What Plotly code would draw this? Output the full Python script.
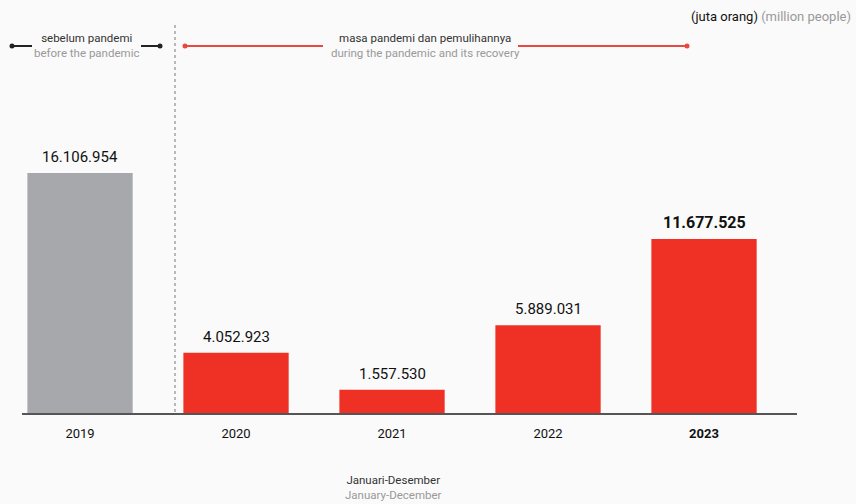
import plotly.graph_objects as go

# Data: foreign tourist arrivals per year (people)
years = ["2019", "2020", "2021", "2022", "2023"]
arrivals = [16106954, 4052923, 1557530, 5889031, 11677525]
periods = ["pre", "pandemic", "pandemic", "pandemic", "pandemic"]

RED = "#ee3124"
GREY = "#a7a8ab"
BG = "#fafafa"
FONT = "Roboto"

W_PX, H_PX = 856, 504
M = dict(l=22, r=59, t=60, b=91)
PLOT_W = W_PX - M["l"] - M["r"]
PLOT_H = H_PX - M["t"] - M["b"]


def px_x(p):
    """Convert a horizontal page pixel to paper coordinates."""
    return (p - M["l"]) / PLOT_W


def px_y(p):
    """Convert a vertical page pixel to paper coordinates."""
    return (H_PX - M["b"] - p) / PLOT_H


def fmt(v):
    return f"{v:,}".replace(",", ".")


colors = [GREY if p == "pre" else RED for p in periods]
idx = list(range(len(years)))

fig = go.Figure(
    go.Bar(
        x=idx,
        y=arrivals,
        marker=dict(color=colors, line=dict(width=0)),
        width=0.675,
        hoverinfo="skip",
    )
)

# value labels above bars; the latest year is emphasised
for i, v in zip(idx, arrivals):
    last = i == len(years) - 1
    fig.add_annotation(
        x=i, y=v, xref="x", yref="y",
        text=f"<b>{fmt(v)}</b>" if last else fmt(v),
        showarrow=False, yanchor="bottom", yshift=5,
        font=dict(family=FONT, size=16 if last else 15, color="#111"),
    )

ticktext = [f"<b>{y}</b>" if i == len(years) - 1 else y for i, y in enumerate(years)]

fig.update_layout(
    width=W_PX, height=H_PX,
    margin=M,
    paper_bgcolor=BG, plot_bgcolor=BG,
    showlegend=False,
    xaxis=dict(
        range=[-0.372, 4.596],
        tickvals=idx, ticktext=ticktext,
        tickfont=dict(family=FONT, size=13, color="#111"),
        showgrid=False, zeroline=False,
        showline=True, linecolor="#555", linewidth=2,
        ticks="outside", ticklen=7, tickcolor="rgba(0,0,0,0)",
    ),
    yaxis=dict(
        range=[0, 23.7e6],
        visible=False, showgrid=False, zeroline=False,
    ),
    font=dict(family=FONT),
)

# dotted divider between pre-pandemic and pandemic periods
fig.add_shape(
    type="line", xref="paper", yref="paper",
    x0=px_x(175), x1=px_x(175), y0=px_y(25), y1=0,
    line=dict(color="#777", width=1, dash="dot"),
)

# period brackets in the header
HY = px_y(46)
brackets = [
    (12, 32, 141, 160, "#222"),
    (185, 323, 518, 687, "#e8493e"),
]
for a0, a1, b0, b1, col in brackets:
    for s0, s1 in [(a0, a1), (b0, b1)]:
        fig.add_shape(type="line", xref="paper", yref="paper",
                      x0=px_x(s0), x1=px_x(s1), y0=HY, y1=HY,
                      line=dict(color=col, width=2))
    for p in (a0, b1):
        fig.add_shape(type="circle", xref="paper", yref="paper",
                      x0=px_x(p - 2.5), x1=px_x(p + 2.5),
                      y0=px_y(48.5), y1=px_y(43.5),
                      fillcolor=col, line=dict(width=0))

headers = [
    (86, "sebelum pandemi", "before the pandemic"),
    (425, "masa pandemi dan pemulihannya", "during the pandemic and its recovery"),
]
for cx, idn, en in headers:
    fig.add_annotation(
        x=px_x(cx), y=px_y(46), xref="paper", yref="paper",
        text=f"<span style='color:#333'>{idn}</span><br><span style='color:#999'>{en}</span>",
        showarrow=False, xanchor="center", yanchor="middle", align="center",
        font=dict(family=FONT, size=11.5),
    )

# unit note
fig.add_annotation(
    x=px_x(853), y=px_y(16), xref="paper", yref="paper",
    text="<span style='color:#111'>(juta orang)</span> <span style='color:#999'>(million people)</span>",
    showarrow=False, xanchor="right", yanchor="middle",
    font=dict(family=FONT, size=13),
)

# period note under the axis
fig.add_annotation(
    x=px_x(393), y=px_y(487), xref="paper", yref="paper",
    text="<span style='color:#333'>Januari-Desember</span><br><span style='color:#999'>January-December</span>",
    showarrow=False, xanchor="center", yanchor="middle", align="center",
    font=dict(family=FONT, size=11.5),
)

fig.write_html("out.html", config=dict(displayModeBar=False))
